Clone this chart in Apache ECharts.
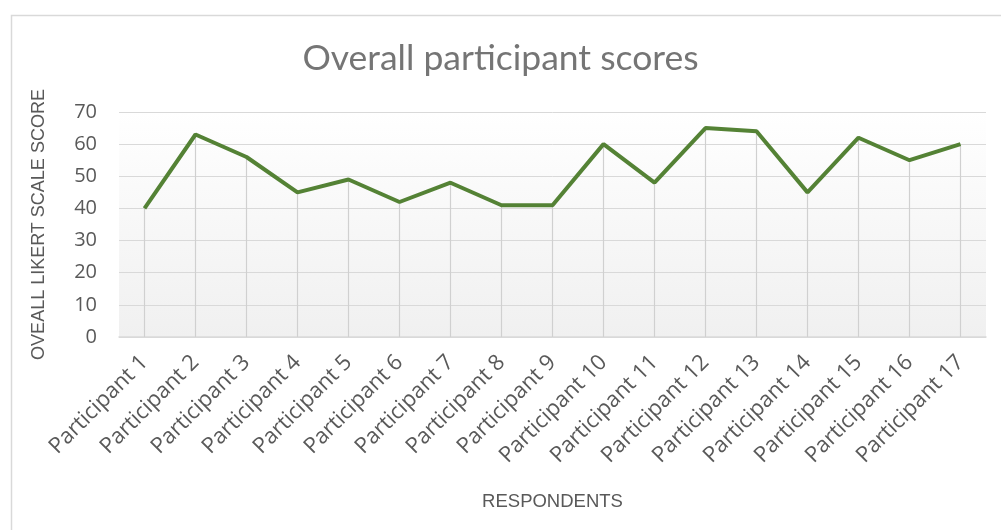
<!DOCTYPE html>
<html><head><meta charset="utf-8">
<script src="https://cdn.jsdelivr.net/npm/echarts@6/dist/echarts.min.js"></script>
<style>html,body{margin:0;padding:0;background:#fff}#c{width:1001px;height:530px}</style>
</head><body><div id="c"></div>
<script>
const categories = ['Participant 1','Participant 2','Participant 3','Participant 4','Participant 5','Participant 6','Participant 7','Participant 8','Participant 9','Participant 10','Participant 11','Participant 12','Participant 13','Participant 14','Participant 15','Participant 16','Participant 17'];
const scores = [40, 63, 56, 45, 49, 42, 48, 41, 41, 60, 48, 65, 64, 45, 62, 55, 60];
const yTicks = [0, 10, 20, 30, 40, 50, 60, 70];

const chart = echarts.init(document.getElementById('c'), null, {renderer: 'canvas'});
const dropLines = scores.map((v, i) => [{coord: [i, v]}, {coord: [i, 0]}]);
chart.setOption({
  animation: false,
  backgroundColor: '#fff',
  graphic: [{
    type: 'rect', left: 9, top: 13, z: -10,
    shape: {width: 1010, height: 540},
    style: {fill: 'none', stroke: '#d9d9d9', lineWidth: 1.5}
  }],
  title: {
    text: 'Overall participant scores', left: 'center', top: 36,
    textStyle: {fontFamily: 'Lato', fontWeight: 'normal', fontSize: 35.5, color: '#757575'}
  },
  grid: {
    left: 119, right: 15, top: 112, bottom: 193,
    show: true, borderWidth: 0,
    backgroundColor: {type: 'linear', x: 0, y: 0, x2: 0, y2: 1,
      colorStops: [{offset: 0, color: '#ffffff'}, {offset: 1, color: '#f0f0f0'}]}
  },
  xAxis: {
    type: 'category', data: categories, boundaryGap: true,
    name: 'RESPONDENTS', nameLocation: 'middle', nameGap: 155,
    nameTextStyle: {fontFamily: 'Liberation Sans', fontSize: 18.5, color: '#595959'},
    axisLine: {show: true, lineStyle: {color: '#d9d9d9', width: 1.5}},
    axisTick: {show: false},
    splitLine: {show: false},
    axisLabel: {rotate: 45, fontFamily: 'Open Sans', fontSize: 22, color: '#595959', margin: 22, interval: 0}
  },
  yAxis: {
    type: 'value', min: 0, max: 70, interval: 10,
    name: 'OVEALL LIKERT SCALE SCORE', nameLocation: 'middle', nameGap: 71, nameRotate: 90,
    nameTextStyle: {fontFamily: 'Liberation Sans', fontSize: 18, color: '#595959'},
    axisLine: {show: false}, axisTick: {show: false},
    axisLabel: {fontFamily: 'Open Sans', fontSize: 20, color: '#595959', margin: 22,
      formatter: v => yTicks.includes(v) ? String(v) : ''},
    splitLine: {show: true, lineStyle: {color: '#d9d9d9', width: 1}}
  },
  series: [{
    type: 'line', data: scores, symbol: 'none',
    lineStyle: {color: '#548235', width: 4},
    z: 5,
    markLine: {
      silent: true, symbol: 'none', label: {show: false},
      lineStyle: {color: '#d0d0d0', width: 1.2, type: 'solid'},
      data: dropLines, z: 1
    }
  }]
});
</script></body></html>
